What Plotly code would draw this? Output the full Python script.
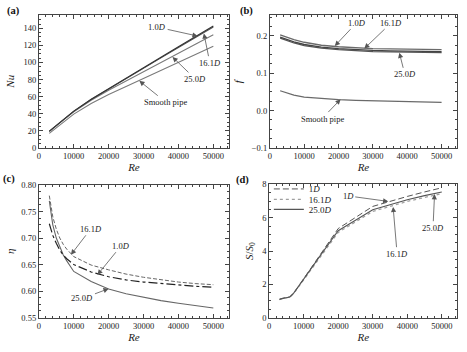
import plotly.graph_objects as go

W, H = 467, 352
FONT = "Liberation Serif"

# ---------------- data ----------------
# (a) Nusselt number
re_a = [3000, 5000, 7000, 10000, 15000, 20000, 25000, 30000, 35000, 40000, 45000, 50000]
nu_10 = [19.5, 26.5, 33, 43, 57, 69.5, 81.8, 94, 106.2, 118.4, 130.6, 142.8]
nu_161 = [19.3, 26.3, 32.8, 42.7, 56.6, 69, 81.2, 93.3, 105.4, 117.5, 129.6, 141.7]
nu_250 = [19, 26, 32.5, 42.2, 55.8, 67.5, 78.5, 89.5, 100.2, 111, 121.7, 132.4]
nu_smooth = [17, 23.5, 29.8, 39.5, 52, 62.5, 72, 81.5, 91, 100.5, 109.8, 119]

# (b) friction factor
re_b = [3000, 5000, 7000, 10000, 15000, 20000, 25000, 30000, 35000, 40000, 45000, 50000]
f_10 = [0.203, 0.196, 0.190, 0.183, 0.175, 0.171, 0.168, 0.166, 0.165, 0.1645, 0.164, 0.1635]
f_161 = [0.197, 0.190, 0.184, 0.177, 0.170, 0.166, 0.163, 0.161, 0.160, 0.159, 0.1585, 0.158]
f_250 = [0.194, 0.187, 0.181, 0.174, 0.167, 0.163, 0.160, 0.158, 0.157, 0.156, 0.1555, 0.155]
f_smooth = [0.053, 0.046, 0.041, 0.036, 0.032, 0.029, 0.027, 0.026, 0.025, 0.024, 0.023, 0.022]

# (c) efficiency
re_c = [3000, 4000, 5000, 6000, 7000, 8000, 10000, 15000, 20000, 25000, 30000, 35000, 40000, 45000, 50000]
eta_161 = [0.780, 0.740, 0.717, 0.700, 0.688, 0.679, 0.665, 0.649, 0.640, 0.632, 0.626, 0.621, 0.617, 0.614, 0.612]
eta_10 = [0.727, 0.705, 0.690, 0.677, 0.668, 0.661, 0.650, 0.636, 0.627, 0.621, 0.617, 0.614, 0.611, 0.609, 0.607]
eta_250 = [0.770, 0.725, 0.700, 0.682, 0.668, 0.657, 0.637, 0.618, 0.604, 0.595, 0.588, 0.582, 0.577, 0.572, 0.568]

# (d) S/S0
re_d = [3000, 4000, 6000, 7000, 8000, 10000, 15000, 20000, 30000, 35000, 40000, 45000, 50000]
s_1 = [1.1, 1.17, 1.25, 1.45, 1.73, 2.33, 3.82, 5.35, 6.68, 7.0, 7.28, 7.55, 7.8]
s_161 = [1.08, 1.15, 1.23, 1.43, 1.7, 2.28, 3.74, 5.12, 6.38, 6.7, 6.98, 7.22, 7.45]
s_250 = [1.1, 1.16, 1.24, 1.44, 1.72, 2.31, 3.78, 5.22, 6.48, 6.8, 7.08, 7.33, 7.55]

x_ticks = [0, 10000, 20000, 30000, 40000, 50000]
x_ticktext = ["0", "10000", "20000", "30000", "40000", "50000"]

# ---------------- figure ----------------
fig = go.Figure()

def line(x, y, xa, ya, color, width=1.0, dash="solid", name=None, legend=None):
    fig.add_trace(go.Scatter(
        x=x, y=y, mode="lines", xaxis=xa, yaxis=ya,
        line=dict(color=color, width=width, dash=dash),
        name=name if name else "", showlegend=legend is not None,
        legend=legend if legend else "legend",
        hoverinfo="skip"))

# (a)
line(re_a, nu_smooth, "x", "y", "#7a7a7a", 1.1)
line(re_a, nu_250, "x", "y", "#7a7a7a", 1.1)
line(re_a, nu_161, "x", "y", "#555555", 1.1)
line(re_a, nu_10, "x", "y", "#333333", 1.1)

# (b)
line(re_b, f_smooth, "x2", "y2", "#6a6a6a", 1.3)
line(re_b, f_250, "x2", "y2", "#555555", 1.3)
line(re_b, f_161, "x2", "y2", "#444444", 1.3)
line(re_b, f_10, "x2", "y2", "#6a6a6a", 1.3)

# (c)
line(re_c, eta_250, "x3", "y3", "#666666", 1.1)
line(re_c, eta_10, "x3", "y3", "#222222", 1.2, "dashdot")
line(re_c, eta_161, "x3", "y3", "#666666", 1.0, "4px,2px")

# (d)
line(re_d, s_161, "x4", "y4", "#a0a0a0", 1.3, "dot", "16.1<i>D</i>", "legend2")
line(re_d, s_250, "x4", "y4", "#555555", 1.1, "solid", "25.0<i>D</i>", "legend3")
line(re_d, s_1, "x4", "y4", "#555555", 1.0, "6px,3px", "1<i>D</i>", "legend")

def dx(l, r):
    return [l / W, r / W]

def dy(t, b):
    return [1 - b / H, 1 - t / H]

tickfont = dict(family=FONT, size=8.5, color="#222")
titlefont = dict(family=FONT, size=11, color="#222")

def xax(domain, anchor, rng):
    return dict(domain=domain, anchor=anchor, range=rng,
                tickmode="array", tickvals=x_ticks, ticktext=x_ticktext,
                ticks="inside", ticklen=4, tickwidth=0.8, tickcolor="#444",
                minor=dict(ticks="inside", ticklen=2, dtick=2000, tickcolor="#444", tickwidth=0.6),
                showline=True, linecolor="#444", linewidth=0.9, mirror="allticks",
                showgrid=False, zeroline=False, tickfont=tickfont,
                title=dict(text="<i>Re</i>", font=titlefont, standoff=2))

def yax(domain, anchor, rng, dtick, mdtick, fmt, title, standoff=4):
    return dict(domain=domain, anchor=anchor, range=rng, dtick=dtick, tick0=rng[0],
                tickformat=fmt,
                ticks="inside", ticklen=4, tickwidth=0.8, tickcolor="#444",
                minor=dict(ticks="inside", ticklen=2, dtick=mdtick, tickcolor="#444", tickwidth=0.6),
                showline=True, linecolor="#444", linewidth=0.9, mirror="allticks",
                showgrid=False, zeroline=False, tickfont=tickfont,
                title=dict(text=title, font=titlefont, standoff=standoff))

XR = [0, 54500]
fig.update_layout(
    width=W, height=H, margin=dict(l=0, r=0, t=0, b=0),
    paper_bgcolor="white", plot_bgcolor="white",
    font=dict(family=FONT, color="#222"),
    xaxis=xax(dx(37, 228), "y", XR),
    yaxis=yax(dy(10, 147), "x", [0, 156], 20, 5, "d", "<i>Nu</i>", 6),
    xaxis2=xax(dx(269, 457), "y2", XR),
    yaxis2=yax(dy(10.7, 147), "x2", [-0.1, 0.255], 0.1, 0.025, ".1f", "<i>f</i>", 6),
    xaxis3=xax(dx(37, 228), "y3", XR),
    yaxis3=yax(dy(185.3, 321.7), "x3", [0.55, 0.80], 0.05, 0.0125, ".2f", "<i>η</i>", 4),
    xaxis4=xax(dx(268.3, 457.3), "y4", XR),
    yaxis4=yax(dy(184.7, 321.7), "x4", [0, 8], 2, 0.5, "d", "<i>S</i>/<i>S</i><sub>0</sub>", 6),
)

legfont = dict(family=FONT, size=9, color="#222")
for key, ypix in [("legend", 189.3), ("legend2", 200), ("legend3", 210.3)]:
    fig.update_layout({key: dict(x=268 / W, y=1 - ypix / H, xanchor="left", yanchor="middle",
                                 bgcolor="rgba(0,0,0,0)", borderwidth=0, font=legfont,
                                 itemwidth=30, tracegroupgap=0)})

# ---------------- annotations ----------------
annfont = dict(family=FONT, size=8.5, color="#222")

def arrow(xa, ya, x, y, ax, ay, text):
    fig.add_annotation(x=x, y=y, ax=ax, ay=ay, xref=xa, yref=ya, axref=xa, ayref=ya,
                       text=text, showarrow=True, arrowhead=2, arrowsize=1.3,
                       arrowwidth=0.8, arrowcolor="#555", font=annfont, standoff=0,
                       startstandoff=0)

# (a)
arrow("x", "y", 45500, 131, 33900, 141.5, "1.0<i>D</i>")
arrow("x", "y", 47300, 134, 49000, 99.8, "16.1<i>D</i>")
arrow("x", "y", 38300, 106.5, 44800, 80.8, "25.0<i>D</i>")
arrow("x", "y", 28800, 78.5, 36400, 53.5, "Smooth pipe")
# (b)
arrow("x2", "y2", 18900, 0.173, 25300, 0.2356, "1.0<i>D</i>")
arrow("x2", "y2", 27500, 0.166, 35400, 0.2356, "16.1<i>D</i>")
arrow("x2", "y2", 37700, 0.155, 39300, 0.097, "25.0<i>D</i>")
arrow("x2", "y2", 20600, 0.030, 15200, -0.0216, "Smooth pipe")
# (c)
arrow("x3", "y3", 9200, 0.6685, 14900, 0.7174, "16.1<i>D</i>")
arrow("x3", "y3", 16800, 0.6306, 23600, 0.6856, "1.0<i>D</i>")
arrow("x3", "y3", 20000, 0.6044, 12500, 0.586, "25.0<i>D</i>")
# (d)
arrow("x4", "y4", 34500, 6.98, 22900, 7.31, "1<i>D</i>")
arrow("x4", "y4", 35900, 6.65, 37050, 3.84, "16.1<i>D</i>")
arrow("x4", "y4", 47900, 7.42, 47450, 5.40, "25.0<i>D</i>")

# panel labels
for lab, px, py in [("(a)", 12, 6.5), ("(b)", 246, 6.5), ("(c)", 7, 179), ("(d)", 242, 180)]:
    fig.add_annotation(x=px / W, y=1 - py / H, xref="paper", yref="paper", text=f"<b>{lab}</b>",
                       showarrow=False, font=dict(family=FONT, size=10.5, color="#111"),
                       xanchor="center", yanchor="middle")

fig.write_html("out.html")
